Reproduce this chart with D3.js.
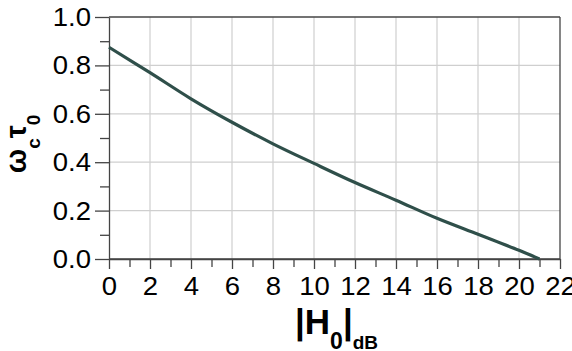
<!DOCTYPE html>
<html>
<head>
<meta charset="utf-8">
<script src="https://cdn.jsdelivr.net/npm/d3@7"></script>
<style>
  body { margin: 0; background: #fff; }
  svg { display: block; font-family: "Liberation Sans", Arial, Helvetica, sans-serif; }
</style>
</head>
<body>
<svg id="chart" width="572" height="351"></svg>
<script>
'use strict';

// values
var gainDb = [0, 2, 4, 6, 8, 10, 12, 14, 16, 18, 20, 21];
var wcTau = [0.875, 0.770, 0.662, 0.565, 0.476, 0.395, 0.316, 0.243, 0.168, 0.102, 0.036, 0.0];
var xTicks = [0, 2, 4, 6, 8, 10, 12, 14, 16, 18, 20, 22];
var yTicks = [0.0, 0.2, 0.4, 0.6, 0.8, 1.0];

var margin = {top: 17, right: 12, bottom: 92, left: 109};
var width = 572 - margin.left - margin.right;
var height = 351 - margin.top - margin.bottom;
var axisColor = "#444";
var stretch = 1.1;   // tick labels in the reference are a bit wider than Liberation

var svg = d3.select("#chart");
var g = svg.append("g")
    .attr("transform", "translate(" + margin.left + "," + margin.top + ")");

var x = d3.scaleLinear().domain([0, 22]).range([0, width]);
var y = d3.scaleLinear().domain([0, 1]).range([height, 0]);

// grid
g.append("g").selectAll("line.vgrid")
    .data(xTicks.slice(1, -1))
    .enter().append("line")
    .attr("class", "vgrid")
    .attr("x1", function(d) { return x(d); })
    .attr("x2", function(d) { return x(d); })
    .attr("y1", 0).attr("y2", height)
    .attr("stroke", "#cfcfcf").attr("stroke-width", 1.2);

g.append("g").selectAll("line.hgrid")
    .data(yTicks.slice(1, -1))
    .enter().append("line")
    .attr("class", "hgrid")
    .attr("x1", 0).attr("x2", width)
    .attr("y1", function(d) { return y(d); })
    .attr("y2", function(d) { return y(d); })
    .attr("stroke", "#cfcfcf").attr("stroke-width", 1.2);

// minor ticks
var xMinor = d3.range(1, 22, 2);
var yMinor = [0.1, 0.3, 0.5, 0.7, 0.9];

g.append("g")
    .attr("transform", "translate(0," + height + ")")
    .call(d3.axisBottom(x).tickValues(xMinor).tickSize(8).tickFormat(""))
    .call(function(a) { a.select(".domain").remove(); });

g.append("g")
    .call(d3.axisLeft(y).tickValues(yMinor).tickSize(9).tickFormat(""))
    .call(function(a) { a.select(".domain").remove(); });

// major axes
var xAxis = g.append("g")
    .attr("transform", "translate(0," + height + ")")
    .call(d3.axisBottom(x).tickValues(xTicks).tickSize(10).tickSizeOuter(0).tickPadding(8)
        .tickFormat(d3.format("d")));

var yAxis = g.append("g")
    .call(d3.axisLeft(y).tickValues(yTicks).tickSize(14).tickSizeOuter(0).tickPadding(4)
        .tickFormat(d3.format(".1f")));

g.selectAll(".tick line").attr("stroke", axisColor).attr("stroke-width", 1.3);
g.selectAll(".domain").attr("stroke", axisColor).attr("stroke-width", 1.3);
g.selectAll(".tick text").attr("fill", "#000").style("font-size", "25px")
    .attr("transform", "scale(" + stretch + ",1)");
xAxis.selectAll(".tick text").attr("dy", "0.71em");
yAxis.selectAll(".tick text").attr("dy", "0.34em").attr("x", -18 / stretch);

// frame: bottom, top, right
g.append("line").attr("x1", 0).attr("x2", width).attr("y1", height).attr("y2", height)
    .attr("stroke", axisColor).attr("stroke-width", 1.3);
g.append("line").attr("x1", 0).attr("x2", width).attr("y1", 0).attr("y2", 0)
    .attr("stroke", axisColor).attr("stroke-width", 1.3);
g.append("line").attr("x1", width).attr("x2", width).attr("y1", 0).attr("y2", height)
    .attr("stroke", axisColor).attr("stroke-width", 1.3);

// curve
var line = d3.line()
    .x(function(d, i) { return x(gainDb[i]); })
    .y(function(d) { return y(d); })
    .curve(d3.curveCatmullRom);

g.append("path")
    .datum(wcTau)
    .attr("d", line)
    .attr("fill", "none")
    .attr("stroke", "#2f4f4a")
    .attr("stroke-width", 3.2);

// x label  |H0|dB
var xl = svg.append("text")
    .attr("x", margin.left + width / 2 + 2)
    .attr("y", 334)
    .attr("text-anchor", "middle")
    .attr("font-weight", "bold")
    .style("font-size", "35px");
xl.append("tspan").text("|H");
xl.append("tspan").attr("dy", 15).style("font-size", "23px").text("0");
xl.append("tspan").attr("dy", -15).text("|");
xl.append("tspan").attr("dy", 15).style("font-size", "19px").text("dB");

// y label  ωc τ0
var yl = svg.append("text")
    .attr("transform", "translate(26,144) rotate(-90)")
    .attr("text-anchor", "middle")
    .attr("font-weight", "bold")
    .style("font-size", "29px");
yl.append("tspan").text("ω");
yl.append("tspan").attr("dy", 14).style("font-size", "19px").text("c");
yl.append("tspan").attr("dy", -14).text("τ");
yl.append("tspan").attr("dy", 14).style("font-size", "19px").text("0");
</script>
</body>
</html>
